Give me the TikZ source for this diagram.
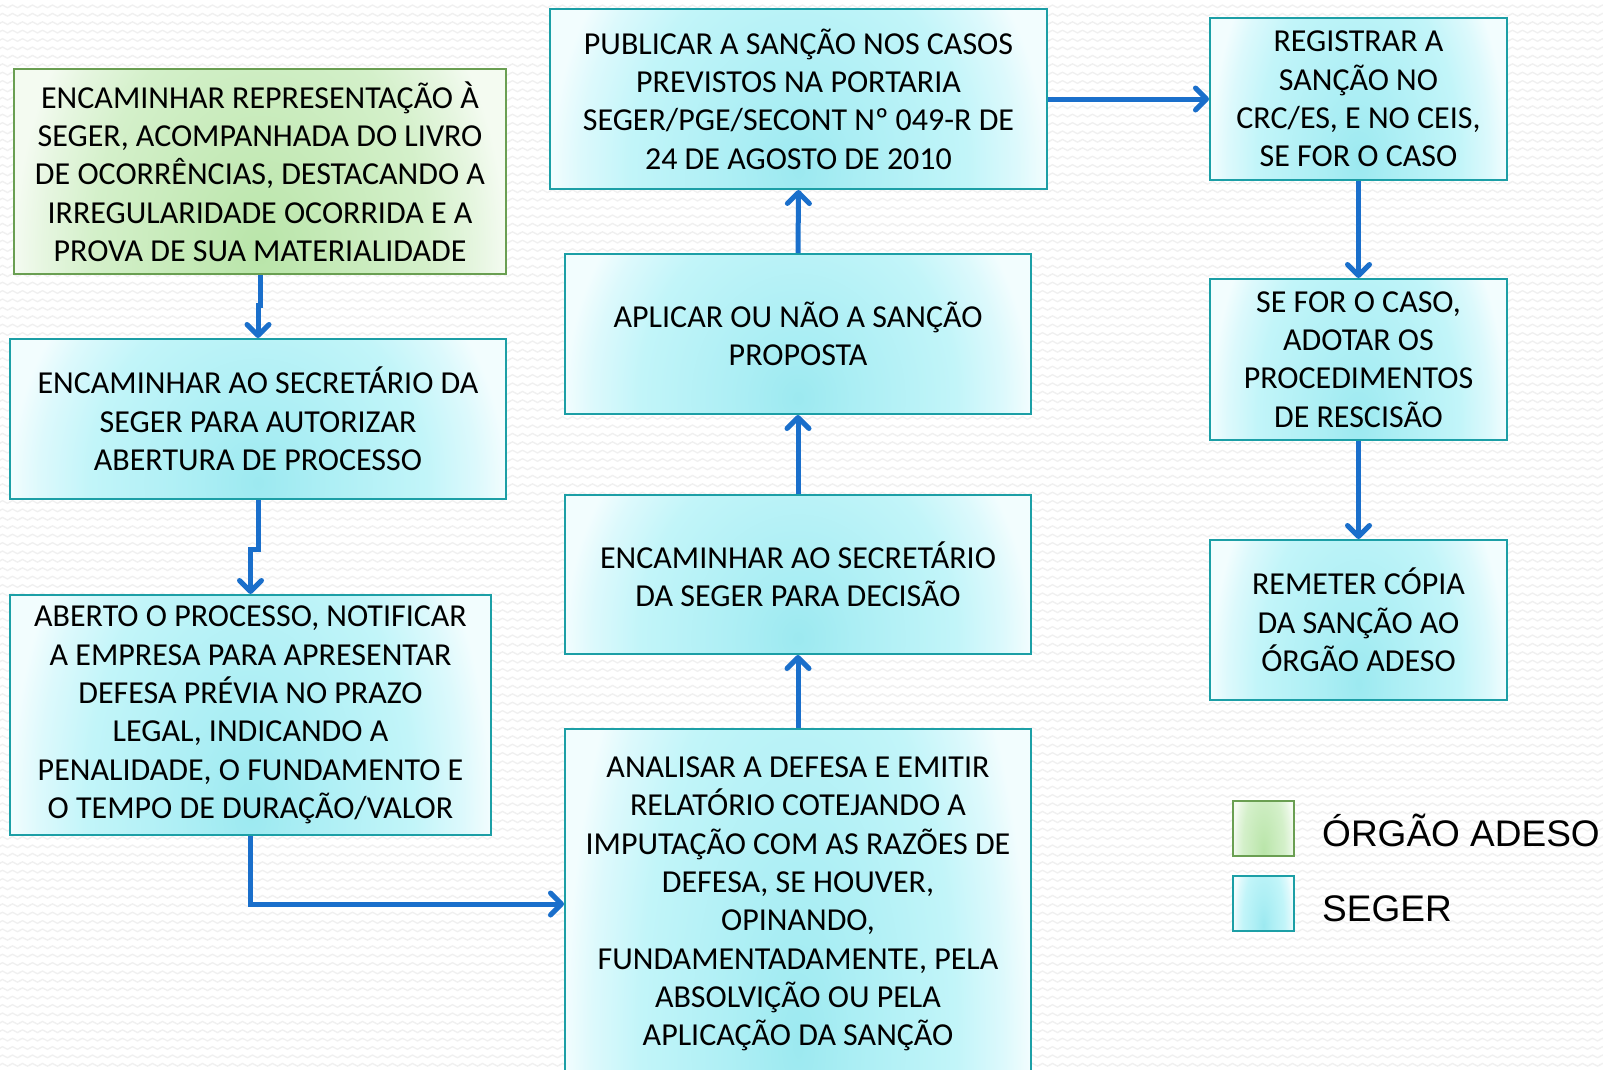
\documentclass[tikz,border=0pt]{standalone}
\usepackage{fontspec}
\setmainfont{Carlito}
\newfontfamily\arialf{Liberation Sans}
\usetikzlibrary{arrows.meta,calc,patterns}
\definecolor{segIn}{HTML}{9CE9F0}
\definecolor{segA}{HTML}{ABEEF4}
\definecolor{segMid}{HTML}{C2F5F9}
\definecolor{segB}{HTML}{DCF9FC}
\definecolor{segOut}{HTML}{F2FDFE}
\definecolor{grIn}{HTML}{B9E5A9}
\definecolor{grA}{HTML}{C3E9B5}
\definecolor{grMid}{HTML}{D4F0CA}
\definecolor{grB}{HTML}{E6F6E0}
\definecolor{grOut}{HTML}{F4FBF1}
\definecolor{segLine}{HTML}{1C9FA6}
\definecolor{grLine}{HTML}{6A9F52}
\definecolor{arrBlue}{HTML}{1A6FCB}
\definecolor{waveGray}{HTML}{F0F0F0}
\pgfdeclareradialshading{segshade}{\pgfpoint{0bp}{0bp}}{color(0bp)=(segIn); color(6bp)=(segA); color(17bp)=(segMid); color(22bp)=(segB); color(25bp)=(segOut); color(50bp)=(segOut)}
\pgfdeclareradialshading{grshade}{\pgfpoint{0bp}{0bp}}{color(0bp)=(grIn); color(6bp)=(grA); color(17bp)=(grMid); color(22bp)=(grB); color(25bp)=(grOut); color(50bp)=(grOut)}
\pgfdeclarepatternformonly{bgwaves}{\pgfqpoint{-1pt}{-1pt}}{\pgfqpoint{11pt}{9.4pt}}{\pgfqpoint{10pt}{8.4pt}}{%
  \pgfsetlinewidth{1.3pt}%
  \pgfpathmoveto{\pgfqpoint{-0.5pt}{4.0pt}}%
  \pgfpathlineto{\pgfqpoint{0pt}{4.2pt}}%
  \pgfpathcurveto{\pgfqpoint{1.7pt}{6.0pt}}{\pgfqpoint{3.3pt}{6.0pt}}{\pgfqpoint{5pt}{4.2pt}}%
  \pgfpathcurveto{\pgfqpoint{6.7pt}{2.4pt}}{\pgfqpoint{8.3pt}{2.4pt}}{\pgfqpoint{10pt}{4.2pt}}%
  \pgfpathlineto{\pgfqpoint{10.5pt}{4.7pt}}%
  \pgfusepath{stroke}}
\begin{document}
\begin{tikzpicture}[x=1pt,y=-1pt,
  basebox/.style={rectangle, inner sep=0pt, align=center, line width=2pt,
    font=\fontsize{32}{38.3}\selectfont},
  segbox/.style={basebox, draw=segLine,
    path picture={\shade[shading=segshade]
      ($(path picture bounding box.south west)!-1.6!(path picture bounding box.north west)$)
      rectangle
      ($(path picture bounding box.south east)!1.8!(path picture bounding box.north east)$);}},
  grbox/.style={basebox, draw=grLine,
    path picture={\shade[shading=grshade]
      ($(path picture bounding box.south west)!-1.6!(path picture bounding box.north west)$)
      rectangle
      ($(path picture bounding box.south east)!1.8!(path picture bounding box.north east)$);}},
  arr/.style={draw=arrBlue, line width=5pt, -{Straight Barb[length=11pt, width=22pt, round]}},
  legtext/.style={anchor=base west, inner sep=0pt, font=\arialf\fontsize{37}{40}\selectfont}
]
\useasboundingbox (0,0) rectangle (1603,1069);
\fill[white] (0,0) rectangle (1603,1069);
\fill[pattern=bgwaves, pattern color=waveGray] (0,0) rectangle (1603,1069);

\node[grbox, minimum width=492pt, minimum height=205pt] (g) at (260,171.5)
  {ENCAMINHAR REPRESENTAÇÃO À\\SEGER, ACOMPANHADA DO LIVRO\\DE OCORRÊNCIAS, DESTACANDO A\\IRREGULARIDADE OCORRIDA E A\\PROVA DE SUA MATERIALIDADE};
\node[segbox, minimum width=496pt, minimum height=160pt] (b2) at (258,419)
  {ENCAMINHAR AO SECRETÁRIO DA\\SEGER PARA AUTORIZAR\\ABERTURA DE PROCESSO};
\node[segbox, minimum width=481pt, minimum height=240pt] (b3) at (250.5,715)
  {ABERTO O PROCESSO, NOTIFICAR\\A EMPRESA PARA APRESENTAR\\DEFESA PRÉVIA NO PRAZO\\LEGAL, INDICANDO A\\PENALIDADE, O FUNDAMENTO E\\O TEMPO DE DURAÇÃO/VALOR};
\node[segbox, minimum width=466pt, minimum height=350pt] (an) at (798,904)
  {ANALISAR A DEFESA E EMITIR\\RELATÓRIO COTEJANDO A\\IMPUTAÇÃO COM AS RAZÕES DE\\DEFESA, SE HOUVER,\\OPINANDO,\\FUNDAMENTADAMENTE, PELA\\ABSOLVIÇÃO OU PELA\\APLICAÇÃO DA SANÇÃO};
\node[segbox, minimum width=466pt, minimum height=159pt] (dec) at (798,574.5)
  {ENCAMINHAR AO SECRETÁRIO\\DA SEGER PARA DECISÃO};
\node[segbox, minimum width=466pt, minimum height=160pt] (apl) at (798,334)
  {APLICAR OU NÃO A SANÇÃO\\PROPOSTA};
\node[segbox, minimum width=497pt, minimum height=180pt] (pub) at (798.5,99)
  {PUBLICAR A SANÇÃO NOS CASOS\\PREVISTOS NA PORTARIA\\SEGER/PGE/SECONT Nº 049-R DE\\24 DE AGOSTO DE 2010};
\node[segbox, minimum width=297pt, minimum height=162pt] (reg) at (1358.5,99)
  {REGISTRAR A\\SANÇÃO NO\\CRC/ES, E NO CEIS,\\SE FOR O CASO};
\node[segbox, minimum width=297pt, minimum height=161pt] (se) at (1358.5,359.5)
  {SE FOR O CASO,\\ADOTAR OS\\PROCEDIMENTOS\\DE RESCISÃO};
\node[segbox, minimum width=297pt, minimum height=160pt] (rem) at (1358.5,620)
  {REMETER CÓPIA\\DA SANÇÃO AO\\ÓRGÃO ADESO};

\draw[arr] (g.south) -- ++(0,30) -| (b2.north);
\draw[arr] (b2.south) -- ++(0,49) -| (b3.north);
\draw[arr] (b3.south) |- (an.west);
\draw[arr] (an.north) -- (dec.south);
\draw[arr] (dec.north) -- (apl.south);
\draw[arr] (apl.north) -- (pub.south);
\draw[arr] (pub.east) -- (reg.west);
\draw[arr] (reg.south) -- (se.north);
\draw[arr] (se.south) -- (rem.north);

\node[grbox, minimum width=61pt, minimum height=55pt] (lg) at (1263.5,828.5) {};
\node[segbox, minimum width=61pt, minimum height=55pt] (ls) at (1263.5,903.5) {};
\node[legtext] (lgt) at (1322,846) {ÓRGÃO ADESO};
\node[legtext] (lst) at (1322,921) {SEGER};
\end{tikzpicture}
\end{document}
